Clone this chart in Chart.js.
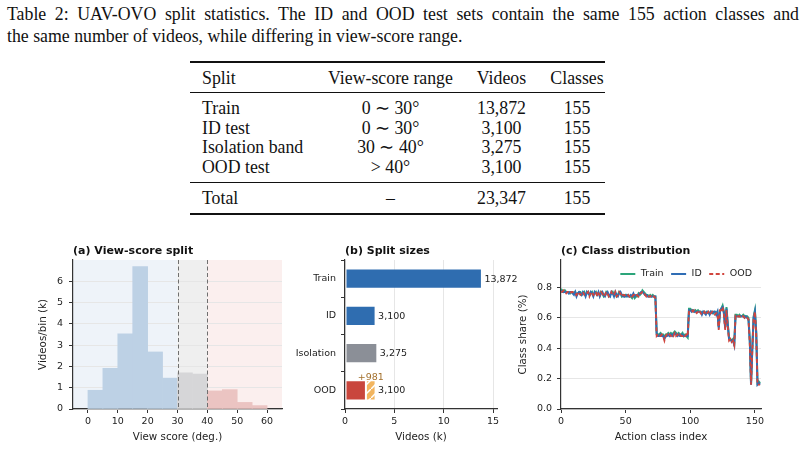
<!DOCTYPE html>
<html>
<head>
<meta charset="utf-8">
<script src="https://cdn.jsdelivr.net/npm/chart.js@4.4.1/dist/chart.umd.min.js"></script>
<style>
  body { margin: 0; background: #fff; width: 805px; height: 452px; overflow: hidden; position: relative; }
  .serif { font-family: "Liberation Serif", "Times New Roman", serif; color: #111; }
  #caption { position: absolute; left: 7px; top: 3px; width: 792px; font-size: 17.8px; line-height: 22px; }
  #caption .l1 { white-space: nowrap; text-align: justify; text-align-last: justify; }
  #table { position: absolute; left: 0; top: 0; width: 805px; height: 230px; font-size: 17.8px; }
  .cell { position: absolute; height: 20px; line-height: 20px; white-space: nowrap; }
  .rule { position: absolute; left: 190px; width: 415px; background: #111; }
  canvas { position: absolute; }
</style>
</head>
<body>
<div id="caption" class="serif">
  <div class="l1">Table 2: UAV-OVO split statistics. The ID and OOD test sets contain the same 155 action classes and</div>
  <div>the same number of videos, while differing in view-score range.</div>
</div>
<div id="table" class="serif"></div>
<canvas id="histChart" width="270" height="216" style="left:20px;top:236px"></canvas>
<canvas id="sizeChart" width="235" height="216" style="left:290px;top:236px"></canvas>
<canvas id="classChart" width="290" height="216" style="left:515px;top:236px"></canvas>
<script>
// ---- table data ----
const tableHeader = ['Split', 'View-score range', 'Videos', 'Classes'];
const splitNames = ['Train', 'ID test', 'Isolation band', 'OOD test'];
const viewRanges = ['0 \u223C 30\u00B0', '0 \u223C 30\u00B0', '30 \u223C 40\u00B0', '> 40\u00B0'];
const videoCounts = [13872, 3100, 3275, 3100];
const classCounts = [155, 155, 155, 155];
const totalRow = ['Total', '\u2013', 23347, 155];

// ---- (a) histogram ----
const binStarts = [0, 5, 10, 15, 20, 25, 30, 35, 40, 45, 50, 55];
const binWidth = 5;
const videosPerBin = [0.88, 1.91, 3.53, 6.69, 2.68, 1.45, 1.70, 1.64, 0.85, 0.91, 0.31, 0.16];
const splitEdges = [30, 40];
const histTicksX = [0, 10, 20, 30, 40, 50, 60];
const histTicksY = [0, 1, 2, 3, 4, 5, 6];

// ---- (b) split sizes ----
const sizeLabels = ['Train', 'ID', 'Isolation', 'OOD'];
const oodExtra = 981;
const sizeTicksX = [0, 5, 10, 15];

// ---- (c) class distribution (share %, per action class) ----
const trainShare = [
  0.79,0.78,0.77,0.78,0.77,0.77,0.77,0.76,0.77,0.77,
  0.76,0.77,0.75,0.76,0.77,0.77,0.75,0.76,0.77,0.75,
  0.76,0.77,0.75,0.76,0.77,0.75,0.76,0.77,0.75,0.76,
  0.75,0.77,0.76,0.74,0.75,0.77,0.76,0.74,0.75,0.76,
  0.77,0.75,0.76,0.74,0.75,0.77,0.76,0.74,0.75,0.74,
  0.75,0.74,0.75,0.74,0.74,0.73,0.75,0.73,0.74,0.74,
  0.76,0.75,0.76,0.78,0.77,0.76,0.75,0.75,0.74,0.75,
  0.74,0.75,0.74,0.74,
  0.50,0.49,0.49,0.50,0.49,0.49,
  0.47,0.49,0.49,0.50,0.49,0.50,0.49,0.50,0.51,0.50,
  0.49,0.50,0.49,0.49,0.50,0.48,0.49,0.48,0.47,
  0.66,0.66,0.65,0.65,0.64,0.65,0.64,0.65,0.64,0.64,0.63,
  0.64,0.64,0.63,0.64,0.63,0.63,0.64,0.64,0.63,0.64,0.63,0.64,
  0.54,0.64,0.66,0.68,0.64,0.54,0.67,0.56,0.47,0.46,0.45,0.46,0.43,
  0.62,0.62,0.61,0.62,0.61,0.61,0.62,0.61,0.61,0.61,0.60,
  0.46,0.17,0.41,0.61,0.65,0.51,0.17,0.18,0.17
];
const idShare = [
  0.78,0.77,0.77,0.77,0.77,0.77,0.76,0.77,0.77,0.76,
  0.75,0.77,0.74,0.76,0.77,0.76,0.75,0.77,0.76,0.74,
  0.77,0.76,0.75,0.77,0.76,0.74,0.77,0.76,0.75,0.77,
  0.74,0.76,0.77,0.75,0.74,0.76,0.77,0.75,0.74,0.77,
  0.76,0.74,0.77,0.75,0.74,0.76,0.77,0.75,0.74,0.74,
  0.74,0.75,0.74,0.74,0.75,0.74,0.76,0.74,0.75,0.75,
  0.75,0.76,0.77,0.77,0.76,0.75,0.75,0.74,0.74,0.74,
  0.74,0.74,0.74,0.74,
  0.49,0.48,0.48,0.49,0.48,0.48,
  0.46,0.48,0.48,0.49,0.48,0.49,0.48,0.49,0.50,0.49,
  0.48,0.49,0.48,0.48,0.49,0.48,0.48,0.48,0.48,
  0.65,0.65,0.64,0.65,0.64,0.64,0.64,0.64,0.64,0.64,0.62,
  0.64,0.63,0.62,0.64,0.64,0.62,0.64,0.63,0.64,0.64,0.62,0.64,
  0.53,0.64,0.66,0.67,0.63,0.53,0.66,0.55,0.46,0.45,0.45,0.45,0.42,
  0.61,0.61,0.61,0.61,0.61,0.61,0.61,0.60,0.61,0.60,0.59,
  0.45,0.16,0.40,0.60,0.64,0.50,0.16,0.17,0.16
];
const oodShare = [
  0.77,0.77,0.78,0.77,0.76,0.77,0.77,0.76,0.77,0.77,
  0.76,0.76,0.75,0.77,0.76,0.75,0.76,0.77,0.75,0.75,
  0.76,0.77,0.74,0.76,0.77,0.75,0.76,0.77,0.74,0.76,
  0.75,0.77,0.76,0.74,0.75,0.77,0.76,0.74,0.75,0.77,
  0.75,0.75,0.77,0.74,0.75,0.77,0.76,0.74,0.75,0.75,
  0.74,0.74,0.75,0.74,0.75,0.74,0.75,0.75,0.74,0.75,
  0.74,0.76,0.76,0.77,0.77,0.75,0.74,0.75,0.74,0.74,
  0.75,0.74,0.74,0.73,
  0.48,0.49,0.48,0.48,0.49,0.48,
  0.45,0.48,0.49,0.48,0.49,0.48,0.49,0.48,0.50,0.48,
  0.49,0.48,0.49,0.48,0.48,0.49,0.48,0.49,0.48,
  0.64,0.65,0.65,0.64,0.65,0.64,0.63,0.64,0.65,0.63,0.62,
  0.63,0.64,0.62,0.63,0.64,0.62,0.63,0.64,0.63,0.62,0.63,0.63,
  0.52,0.65,0.65,0.67,0.62,0.52,0.65,0.54,0.45,0.46,0.44,0.45,0.42,
  0.61,0.60,0.61,0.61,0.60,0.61,0.61,0.60,0.61,0.60,0.59,
  0.44,0.16,0.39,0.59,0.64,0.49,0.16,0.16,0.16
];
const classTicksX = [0, 50, 100, 150];
const classTicksY = [0, 0.2, 0.4, 0.6, 0.8];
const legendOrder = ['Train', 'ID', 'OOD'];

// colours
const C = {
  idBg: '#eef3f9', isoBg: '#efefef', oodBg: '#fbefee',
  idBar: '#bdd1e5', isoBar: '#d6d6d8', oodBar: '#ebc4c2',
  blue: '#2f6db0', grey: '#8b8f97', red: '#c9463d', orange: '#f2b55f', brown: '#a3702c',
  green: '#2ca57a', lineBlue: '#2f6db5', lineRed: '#d1453d',
  grid: '#e6e6e6', axis: '#333333', text: '#222222'
};

// ---- build table ----
const tbl = document.getElementById('table');
function cell(text, y, x, align) {
  const d = document.createElement('div');
  d.className = 'cell';
  d.textContent = text;
  d.style.top = (y - 10) + 'px';
  if (align === 'left') d.style.left = x + 'px';
  else { d.style.left = (x - 100) + 'px'; d.style.width = '200px'; d.style.textAlign = 'center'; }
  tbl.appendChild(d);
}
function rule(y, h) {
  const d = document.createElement('div');
  d.className = 'rule';
  d.style.top = (y - h / 2) + 'px';
  d.style.height = h + 'px';
  tbl.appendChild(d);
}
const colX = [202, 390.5, 501.5, 577];
function addRow(vals, y) {
  cell(vals[0], y, colX[0], 'left');
  cell(vals[1], y, colX[1]);
  cell(typeof vals[2] === 'number' ? vals[2].toLocaleString('en-US') : vals[2], y, colX[2]);
  cell(String(vals[3]), y, colX[3]);
}
rule(62, 1.6);
addRow(tableHeader, 78);
rule(92.7, 1);
const rowY = [108, 127.5, 147, 166.5];
splitNames.forEach((s, i) => addRow([s, viewRanges[i], videoCounts[i], classCounts[i]], rowY[i]));
rule(182, 1);
addRow(totalRow, 197.5);
rule(214, 1.6);

// ---- chart defaults ----
Chart.defaults.font.family = '"DejaVu Sans", sans-serif';
Chart.defaults.font.size = 9.5;
Chart.defaults.color = C.text;
Chart.defaults.animation = false;

const titleOpts = text => ({
  display: true, text: text, align: 'start', fullSize: false, color: '#111',
  font: { size: 11, weight: 'bold' }, padding: { top: 8.5, bottom: 2.3 }
});

function axisX(ticks, min, max, title, gridOn) {
  return {
    type: 'linear', min: min, max: max, offset: false,
    afterBuildTicks: s => { s.ticks = ticks.map(v => ({ value: v })); },
    afterFit: s => { s.height = 43; },
    grid: { display: true, offset: false, drawOnChartArea: gridOn, color: C.grid, tickColor: C.axis, tickLength: 4, tickWidth: 1 },
    border: { display: true, color: C.axis, width: 1.2 },
    ticks: { padding: 3, font: { size: 9.5 }, color: C.text, maxRotation: 0 },
    title: { display: true, text: title, font: { size: 10.3 }, color: C.text, padding: { top: 0, bottom: 8 } }
  };
}

// (a) histogram
const regionPlugin = {
  id: 'regions',
  beforeDraw(chart) {
    const { ctx, chartArea: a, scales: { x } } = chart;
    const xs = [a.left, x.getPixelForValue(splitEdges[0]), x.getPixelForValue(splitEdges[1]), a.right];
    const cols = [C.idBg, C.isoBg, C.oodBg];
    ctx.save();
    for (let i = 0; i < 3; i++) {
      ctx.fillStyle = cols[i];
      ctx.fillRect(xs[i], a.top, xs[i + 1] - xs[i], a.bottom - a.top);
    }
    ctx.restore();
  },
  afterDatasetsDraw(chart) {
    const { ctx, chartArea: a, scales: { x } } = chart;
    ctx.save();
    ctx.strokeStyle = '#6f6f6f';
    ctx.lineWidth = 1;
    ctx.setLineDash([4, 2.5]);
    splitEdges.forEach(v => {
      const px = Math.round(x.getPixelForValue(v)) + 0.5;
      ctx.beginPath(); ctx.moveTo(px, a.top); ctx.lineTo(px, a.bottom); ctx.stroke();
    });
    ctx.restore();
  }
};

new Chart(document.getElementById('histChart'), {
  type: 'bar',
  data: {
    datasets: [{
      data: binStarts.map((s, i) => ({ x: s + binWidth / 2, y: videosPerBin[i] })),
      backgroundColor: binStarts.map(s => s < splitEdges[0] ? C.idBar : (s < splitEdges[1] ? C.isoBar : C.oodBar)),
      borderWidth: 0, barPercentage: 1, categoryPercentage: 1
    }]
  },
  options: {
    responsive: false,
    layout: { padding: { left: 0, right: 8, top: 0, bottom: 0 } },
    plugins: {
      legend: { display: false }, tooltip: { enabled: false },
      title: titleOpts('(a) View-score split')
    },
    scales: {
      x: axisX(histTicksX, -5, 65, 'View score (deg.)', false),
      y: {
        min: 0, max: 7.0,
        afterBuildTicks: s => { s.ticks = histTicksY.map(v => ({ value: v })); },
        afterFit: s => { s.width = 53; },
        grid: { color: C.grid, tickColor: C.axis, tickLength: 4 },
        border: { color: C.axis, width: 1.2 },
        ticks: { padding: 6, font: { size: 9.5 }, color: C.text },
        title: { display: true, text: 'Videos/bin (k)', font: { size: 10.3 }, color: C.text, padding: { top: 17, bottom: 0 } }
      }
    }
  },
  plugins: [regionPlugin]
});

// (b) split sizes
function makeHatch(bg, line) {
  const n = 9;
  const p = document.createElement('canvas');
  p.width = n; p.height = n;
  const g = p.getContext('2d');
  g.fillStyle = bg; g.fillRect(0, 0, n, n);
  g.strokeStyle = line; g.lineWidth = 1.5;
  g.beginPath();
  g.moveTo(-1, n + 1); g.lineTo(n + 1, -1);
  g.moveTo(-n - 1, 1); g.lineTo(1, -n - 1);
  g.moveTo(n - 1, 2 * n + 1); g.lineTo(2 * n + 1, n - 1);
  g.stroke();
  return g.createPattern(p, 'repeat');
}
const sizeK = videoCounts.map(v => v / 1000);
const baseK = videoCounts.map((v, i) => (i === 3 ? v - oodExtra : v) / 1000);
const extraK = videoCounts.map((v, i) => (i === 3 ? oodExtra / 1000 : 0));

const sizeLabelPlugin = {
  id: 'sizeLabels',
  afterDatasetsDraw(chart) {
    const { ctx, scales: { x } } = chart;
    const bars = chart.getDatasetMeta(0).data;
    ctx.save();
    ctx.font = '9.5px "DejaVu Sans", sans-serif';
    ctx.fillStyle = C.text;
    ctx.textBaseline = 'middle';
    ctx.textAlign = 'left';
    videoCounts.forEach((v, i) => {
      ctx.fillText(v.toLocaleString('en-US'), x.getPixelForValue(sizeK[i]) + 2.5, bars[i].y + 0.5);
    });
    const b = bars[3];
    ctx.fillStyle = C.brown;
    ctx.textAlign = 'center';
    ctx.textBaseline = 'bottom';
    ctx.fillText('+' + oodExtra, x.getPixelForValue(sizeK[3] - extraK[3] / 2), b.y - b.height / 2 + 2);
    ctx.restore();
  }
};

new Chart(document.getElementById('sizeChart'), {
  type: 'bar',
  data: {
    labels: sizeLabels,
    datasets: [
      { data: baseK, backgroundColor: [C.blue, C.blue, C.grey, C.red],
        borderColor: 'rgba(255,255,255,0.45)', borderWidth: 1, borderSkipped: false,
        categoryPercentage: 0.54, barPercentage: 1 },
      { data: extraK, backgroundColor: makeHatch(C.orange, '#ffffff'),
        borderColor: 'rgba(255,255,255,0.6)', borderWidth: 1, borderSkipped: false,
        categoryPercentage: 0.54, barPercentage: 1 }
    ]
  },
  options: {
    responsive: false,
    indexAxis: 'y',
    layout: { padding: { left: 0, right: 28, top: 0, bottom: 0 } },
    plugins: {
      legend: { display: false }, tooltip: { enabled: false },
      title: titleOpts('(b) Split sizes')
    },
    scales: {
      x: Object.assign(axisX(sizeTicksX, 0, 15.4, 'Videos (k)', true), { stacked: true }),
      y: {
        stacked: true,
        afterFit: s => { s.width = 55; },
        grid: { drawOnChartArea: false, tickColor: C.axis, tickLength: 4 },
        border: { color: C.axis, width: 1.2 },
        ticks: { padding: 5, font: { size: 9.5 }, color: C.text }
      }
    }
  },
  plugins: [sizeLabelPlugin]
});

// (c) class distribution
// legend drawn inside the plot, top right, like the original
const lineLegendPlugin = {
  id: 'lineLegend',
  afterDatasetsDraw(chart) {
    const { ctx, chartArea: a } = chart;
    const items = legendOrder.map(name => chart.data.datasets.find(d => d.label === name));
    ctx.save();
    ctx.font = '9.5px "DejaVu Sans", sans-serif';
    ctx.textBaseline = 'middle';
    ctx.textAlign = 'left';
    const y = a.top + 14;
    let x = a.right - 9;
    for (let i = items.length - 1; i >= 0; i--) {
      const d = items[i];
      x -= ctx.measureText(d.label).width;
      ctx.fillStyle = C.text;
      ctx.fillText(d.label, x, y);
      x -= 5.5;
      ctx.strokeStyle = d.borderColor;
      ctx.lineWidth = d.borderWidth;
      ctx.setLineDash(d.borderDash || []);
      ctx.beginPath(); ctx.moveTo(x - 15, y); ctx.lineTo(x, y); ctx.stroke();
      ctx.setLineDash([]);
      x -= 15 + 7.5;
    }
    ctx.restore();
  }
};

const toPts = arr => arr.map((v, i) => ({ x: i, y: v }));
new Chart(document.getElementById('classChart'), {
  type: 'line',
  data: {
    datasets: [
      { label: 'OOD', data: toPts(oodShare), borderColor: C.lineRed, backgroundColor: C.lineRed,
        borderWidth: 1.8, borderDash: [4, 2.5], pointRadius: 0, tension: 0 },
      { label: 'ID', data: toPts(idShare), borderColor: C.lineBlue, backgroundColor: C.lineBlue,
        borderWidth: 2, pointRadius: 0, tension: 0 },
      { label: 'Train', data: toPts(trainShare), borderColor: C.green, backgroundColor: C.green,
        borderWidth: 2, pointRadius: 0, tension: 0 }
    ]
  },
  options: {
    responsive: false,
    layout: { padding: { left: 0, right: 44, top: 0, bottom: 0 } },
    plugins: {
      tooltip: { enabled: false },
      legend: { display: false },
      title: titleOpts('(c) Class distribution')
    },
    scales: {
      x: axisX(classTicksX, 0, 154.7, 'Action class index', false),
      y: {
        min: 0, max: 0.98,
        afterBuildTicks: s => { s.ticks = classTicksY.map(v => ({ value: v })); },
        afterFit: s => { s.width = 46; },
        grid: { color: C.grid, tickColor: C.axis, tickLength: 4 },
        border: { color: C.axis, width: 1.2 },
        ticks: { padding: 5, font: { size: 9.5 }, color: C.text, callback: v => v.toFixed(1) },
        title: { display: true, text: 'Class share (%)', font: { size: 10.3 }, color: C.text, padding: { top: 2, bottom: 0 } }
      }
    }
  },
  plugins: [lineLegendPlugin]
});
</script>
</body>
</html>
